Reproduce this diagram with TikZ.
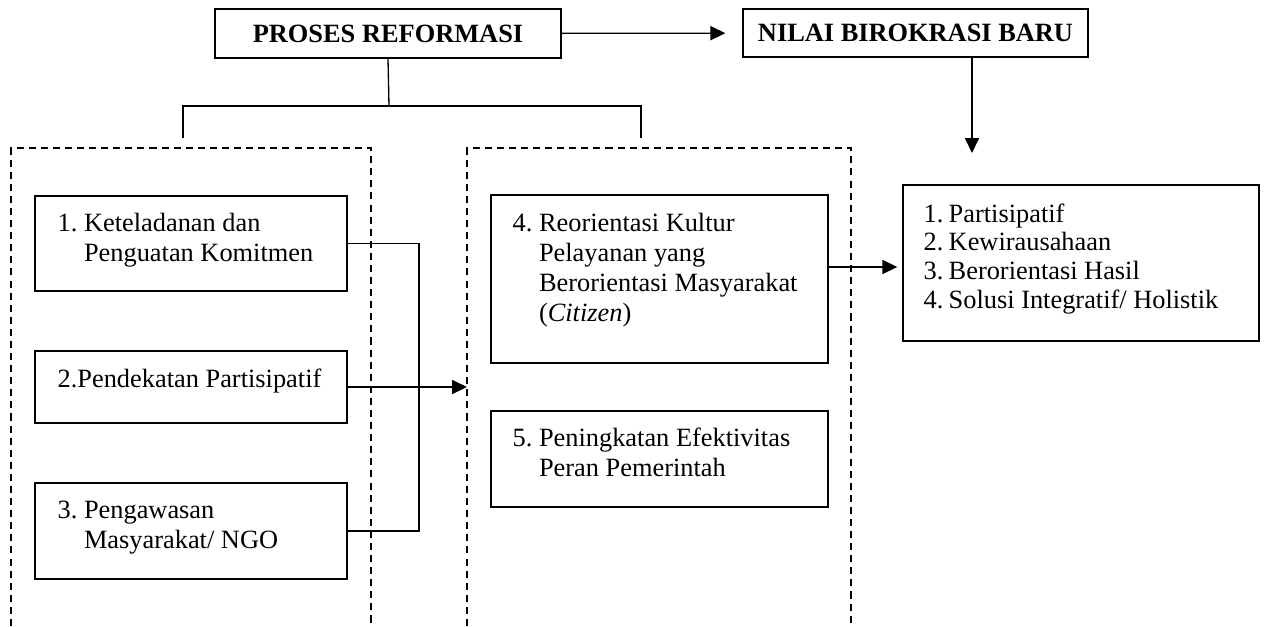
\documentclass[tikz,border=0pt]{standalone}
\usepackage{fontspec}
\setmainfont{Liberation Serif}
\usetikzlibrary{arrows.meta, positioning, calc}

\begin{document}
\begin{tikzpicture}[x=0.455pt, y=-0.455pt, line width=0.6pt,
  font=\fontsize{12}{13.65}\selectfont,
  kotak/.style 2 args={draw, inner sep=0pt, minimum width=#1*0.455pt, minimum height=#2*0.455pt},
  judul/.style={font=\fontsize{12}{13.65}\selectfont\bfseries},
  teks/.style={anchor=base west, inner sep=0pt},
  garis/.style={dash pattern=on 3.2pt off 2.3pt},
  panah/.style={-{Triangle[length=6.8pt, width=6.4pt]}}]
  \useasboundingbox (0,0) rectangle (1265,626);

  \node[kotak={346}{49}, judul] (proses) at (388,33.5) {PROSES REFORMASI};
  \node[kotak={345}{48}, judul] (nilai) at (915.5,33) {NILAI BIROKRASI BARU};

  \draw[garis] (11,626) |- (371,148) -- (371,626);
  \draw[garis] (467,626) |- (851,148) -- (851,626);

  \node[kotak={312}{95}] (b1) at (191,243.5) {};
  \node[kotak={312}{72}] (b2) at (191,387) {};
  \node[kotak={312}{96}] (b3) at (191,531) {};
  \node[kotak={337}{168}] (b4) at (659.5,279) {};
  \node[kotak={337}{96}] (b5) at (659.5,459) {};
  \node[kotak={356}{156}] (hasil) at (1081,263) {};

  \node[teks] (t1) at (57,231) {\begin{tabular}[t]{@{}l@{\ }l@{}}1. & Keteladanan dan\\ & Penguatan Komitmen\end{tabular}};
  \node[teks] (t2) at (57,387) {2.Pendekatan Partisipatif};
  \node[teks] (t3) at (57,518) {\begin{tabular}[t]{@{}l@{\ }l@{}}3. & Pengawasan\\ & Masyarakat/ NGO\end{tabular}};
  \node[teks] (t4) at (512,231) {\begin{tabular}[t]{@{}l@{\ }l@{}}4. & Reorientasi Kultur\\ & Pelayanan yang\\ & Berorientasi Masyarakat\\ & (\textit{Citizen})\end{tabular}};
  \node[teks] (t5) at (512,446) {\begin{tabular}[t]{@{}l@{\ }l@{}}5. & Peningkatan Efektivitas\\ & Peran Pemerintah\end{tabular}};
  \node[teks, font=\fontsize{12}{13.1}\selectfont] (t6) at (923,222) {\begin{tabular}[t]{@{}l@{\hspace{2.4pt}}l@{}}1. & Partisipatif\\ 2. & Kewirausahaan\\ 3. & Berorientasi Hasil\\ 4. & Solusi Integratif/ Holistik\end{tabular}};

  \coordinate (cabang) at (389,106);
  \coordinate (kiri) at (183,138);
  \coordinate (kanan) at (641,138);
  \coordinate (turun) at (972,153);
  \coordinate (gabung) at (419,531);
  \coordinate (masuk) at (467,387);
  \coordinate (keluar) at (828,267);

  \draw[panah, shorten >=7.7pt] (proses) -- (nilai);
  \draw (proses.south) -- (cabang);
  \draw (kiri) |- (cabang) -| (kanan);
  \draw[panah] (nilai.south -| turun) -- (turun);
  \draw (b1.east) -| (gabung) -- (b3.east);
  \draw[panah] (b2.east) -- (masuk);
  \draw[panah, shorten >=2.3pt] (keluar) -- (keluar -| hasil.west);
\end{tikzpicture}
\end{document}
